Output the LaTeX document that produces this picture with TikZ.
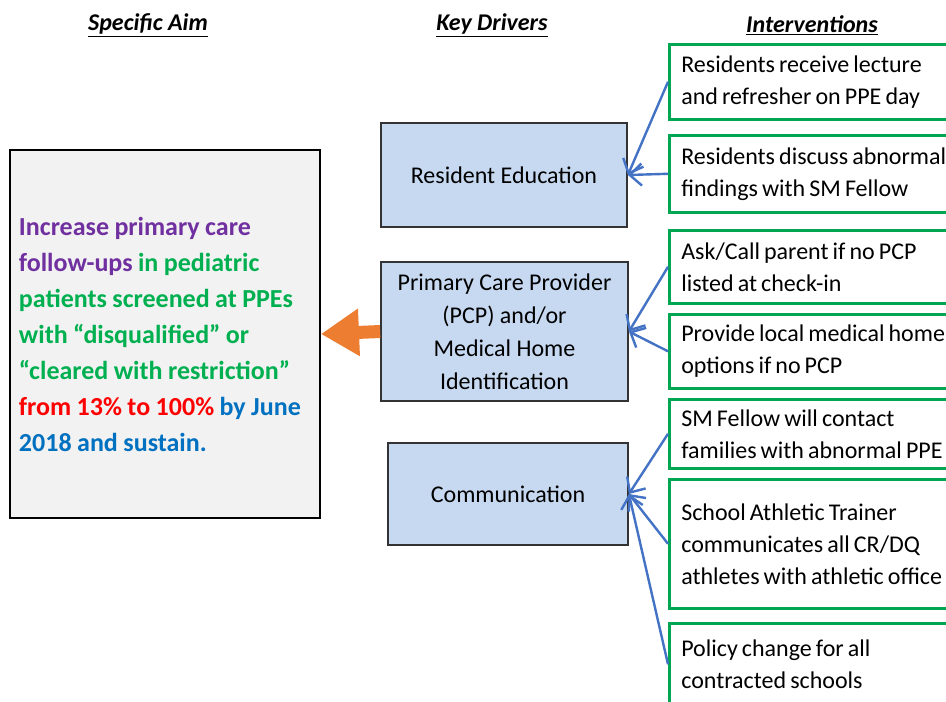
\documentclass[tikz,border=0pt]{standalone}
\usepackage{fontspec}
\setmainfont{Carlito}
\usetikzlibrary{arrows.meta}

\definecolor{aimpurple}{HTML}{7030A0}
\definecolor{aimgreen}{HTML}{00B050}
\definecolor{aimred}{HTML}{FF0000}
\definecolor{aimblue}{HTML}{0070C0}
\definecolor{driverfill}{HTML}{C6D9F1}
\definecolor{boxgreen}{HTML}{00A651}
\definecolor{linkblue}{HTML}{4472C4}
\definecolor{pushorange}{HTML}{ED7D31}

\begin{document}
\begin{tikzpicture}[x=1pt, y=-1pt,
  head/.style={font=\fontsize{24}{28}\selectfont\bfseries\itshape},
  aimbox/.style={draw=black, line width=2pt, fill=black!5, minimum width=310pt,
    minimum height=368pt, text width=292pt, inner xsep=9pt, align=left,
    font=\fontsize{26}{36}\selectfont\bfseries,
    execute at begin node={\spaceskip=0.21em\relax}},
  driver/.style={draw=black!80, line width=1.8pt, fill=driverfill, align=center,
    inner sep=0pt, font=\fontsize{24}{33}\selectfont},
  interv/.style={draw=boxgreen, line width=2.6pt, fill=white, anchor=north west,
    minimum width=300pt, text width=276pt, inner xsep=12pt, inner ysep=0pt,
    align=left, font=\fontsize{24}{32}\selectfont,
    execute at begin node={\spaceskip=0.17em\relax}},
  link/.style={draw=linkblue, line width=2.4pt, -{Straight Barb[length=12pt,width=22pt]}},
  push/.style={draw=pushorange, line width=13pt, -{Triangle[length=38pt,width=45pt]}}]

  \clip (0,0) rectangle (946,702);
  \fill[white] (0,0) rectangle (946,702);

  % column titles
  \node[head] (taim) at (148,25) {\underline{Specific Aim}};
  \node[head] (tkey) at (492,25) {\underline{Key Drivers}};
  \node[head] (tint) at (812,25) {\underline{Interventions}};

  % aim
  \node[aimbox] (aim) at (165,334) {%
    \textcolor{aimpurple}{Increase primary care}\\
    \textcolor{aimpurple}{follow-ups} \textcolor{aimgreen}{in pediatric}\\
    \textcolor{aimgreen}{patients screened at PPEs}\\
    \textcolor{aimgreen}{with “disqualified” or}\\
    \textcolor{aimgreen}{“cleared with restriction”}\\
    \textcolor{aimred}{from 13\% to 100\%} \textcolor{aimblue}{by June}\\
    \textcolor{aimblue}{2018 and sustain.}};

  % key drivers
  \node[driver, minimum width=246pt, minimum height=104pt] (edu) at (504,175)
    {Resident Education};
  \node[driver, minimum width=247pt, minimum height=139pt] (pcp) at (504.5,331.5)
    {Primary Care Provider\\(PCP) and/or\\Medical Home\\Identification};
  \node[driver, minimum width=240pt, minimum height=102pt] (comm) at (508,494)
    {Communication};

  % interventions
  \node[interv, minimum height=75pt] (lect) at (668,43)
    {Residents receive lecture\\and refresher on PPE day};
  \node[interv, minimum height=77pt] (disc) at (668,134)
    {Residents discuss abnormal\\findings with SM Fellow};
  \node[interv, minimum height=73pt] (ask) at (668,229)
    {Ask/Call parent if no PCP\\listed at check-in};
  \node[interv, minimum height=74pt] (opt) at (668,313)
    {Provide local medical home\\options if no PCP};
  \node[interv, minimum height=69pt] (fell) at (668,398)
    {SM Fellow will contact\\families with abnormal PPE};
  \node[interv, minimum height=129pt] (trn) at (668,478)
    {School Athletic Trainer\\communicates all CR/DQ\\athletes with athletic office};
  \node[interv, minimum height=82pt] (pol) at (668,622)
    {Policy change for all\\contracted schools};

  \foreach \i/\d in {lect/edu, disc/edu, ask/pcp, opt/pcp, fell/comm, trn/comm, pol/comm}
    \draw[link] (\i.west) -- (\d.east);

  \draw[push] (pcp.west) -- (aim.east);
\end{tikzpicture}
\end{document}
